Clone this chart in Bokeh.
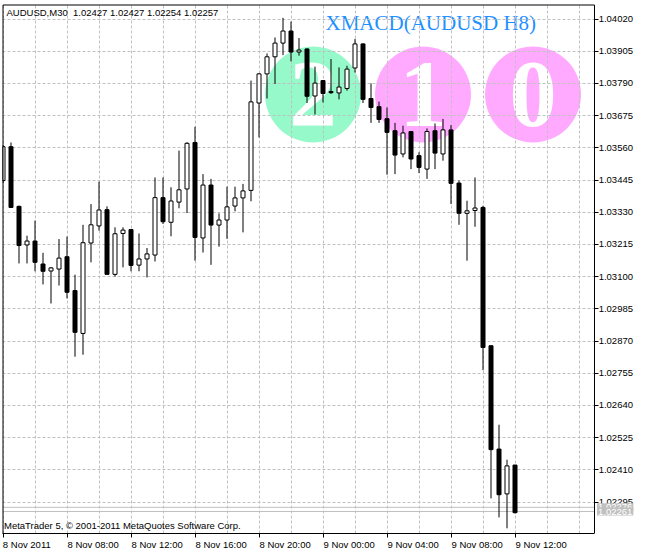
from bokeh.plotting import figure
from bokeh.models import FixedTicker, PrintfTickFormatter, Label, Span, ColumnDataSource, BoxAnnotation
from bokeh.embed import file_html
from bokeh.resources import INLINE
from bokeh.core.properties import value

# ---------------- data ----------------
symbol = "AUDUSD"
timeframe = "M30"
bar_index = list(range(65))
open_ = [1.03443, 1.03564, 1.03351, 1.03213, 1.03227, 1.03145, 1.03120, 1.03127, 1.03171, 1.03050,
         1.02897, 1.03220, 1.03281, 1.03339, 1.03108, 1.03254, 1.03268, 1.03141, 1.03163, 1.03177,
         1.03382, 1.03294, 1.03366, 1.03413, 1.03579, 1.03238, 1.03427, 1.03284, 1.03302, 1.03352,
         1.03381, 1.03408, 1.03720, 1.03824, 1.03885, 1.03934, 1.03977, 1.03902, 1.03913, 1.03745,
         1.03800, 1.03761, 1.03756, 1.03772, 1.03845, 1.03931, 1.03736, 1.03707, 1.03664, 1.03621,
         1.03538, 1.03618, 1.03532, 1.03484, 1.03621, 1.03538, 1.03624, 1.03434, 1.03326, 1.03336,
         1.03347, 1.02853, 1.02484, 1.02324, 1.02427]
high = [1.03570, 1.03579, 1.03353, 1.03246, 1.03300, 1.03185, 1.03134, 1.03234, 1.03243, 1.03107,
        1.03285, 1.03359, 1.03439, 1.03351, 1.03276, 1.03276, 1.03270, 1.03254, 1.03202, 1.03454,
        1.03454, 1.03419, 1.03550, 1.03580, 1.03635, 1.03466, 1.03449, 1.03326, 1.03421, 1.03421,
        1.03431, 1.03800, 1.03826, 1.03897, 1.03954, 1.04024, 1.04011, 1.03952, 1.03915, 1.03850,
        1.03802, 1.03877, 1.03847, 1.03853, 1.03949, 1.03933, 1.03790, 1.03725, 1.03704, 1.03649,
        1.03639, 1.03620, 1.03544, 1.03629, 1.03647, 1.03663, 1.03641, 1.03443, 1.03371, 1.03454,
        1.03353, 1.02855, 1.02571, 1.02446, 1.02427]
low = [1.03435, 1.03347, 1.03147, 1.03147, 1.03119, 1.03072, 1.03004, 1.03068, 1.03022, 1.02814,
       1.02821, 1.03151, 1.03264, 1.03108, 1.03100, 1.03133, 1.03119, 1.03119, 1.03097, 1.03154,
       1.03288, 1.03244, 1.03344, 1.03327, 1.03157, 1.03186, 1.03142, 1.03207, 1.03235, 1.03333,
       1.03258, 1.03369, 1.03597, 1.03736, 1.03788, 1.03891, 1.03869, 1.03889, 1.03720, 1.03679,
       1.03722, 1.03752, 1.03733, 1.03764, 1.03829, 1.03720, 1.03649, 1.03649, 1.03464, 1.03466,
       1.03526, 1.03484, 1.03470, 1.03449, 1.03484, 1.03514, 1.03359, 1.03285, 1.03157, 1.03278,
       1.02766, 1.02308, 1.02240, 1.02201, 1.02254]
close = [1.03564, 1.03347, 1.03211, 1.03227, 1.03151, 1.03119, 1.03131, 1.03166, 1.03044, 1.02901,
         1.03221, 1.03285, 1.03338, 1.03108, 1.03253, 1.03266, 1.03140, 1.03163, 1.03181, 1.03382,
         1.03296, 1.03370, 1.03410, 1.03576, 1.03240, 1.03427, 1.03284, 1.03302, 1.03349, 1.03381,
         1.03406, 1.03724, 1.03824, 1.03885, 1.03934, 1.03977, 1.03902, 1.03909, 1.03744, 1.03791,
         1.03754, 1.03757, 1.03777, 1.03841, 1.03931, 1.03733, 1.03704, 1.03661, 1.03615, 1.03534,
         1.03613, 1.03520, 1.03490, 1.03618, 1.03541, 1.03624, 1.03433, 1.03326, 1.03335, 1.03345,
         1.02847, 1.02482, 1.02321, 1.02424, 1.02257]
time_tick_bars = [0, 8, 16, 24, 32, 40, 48, 56, 64]
time_tick_labels = ["8 Nov 2011", "8 Nov 08:00", "8 Nov 12:00", "8 Nov 16:00", "8 Nov 20:00",
                    "9 Nov 00:00", "9 Nov 04:00", "9 Nov 08:00", "9 Nov 12:00"]
price_ticks = [1.02295, 1.02410, 1.02525, 1.02640, 1.02755, 1.02870, 1.02985, 1.03100,
               1.03215, 1.03330, 1.03445, 1.03560, 1.03675, 1.03790, 1.03905, 1.04020]
bid_price = 1.02261
ask_price = 1.02276
indicator_name = "XMACD(AUDUSD H8)"
signal_digits = ["2", "1", "0"]
signal_colors = ["#96F9CA", "#FFAAFF", "#FFAAFF"]
copyright_text = "MetaTrader 5, \u00a9 2001-2011 MetaQuotes Software Corp."

# ---------------- layout ----------------
FIG_W, FIG_H = 646, 554
LEFT_B, TOP_B, RIGHT_B, BOTTOM_B = 2, 4, 0, 21
FRAME_W = FIG_W - LEFT_B - RIGHT_B
FRAME_H = FIG_H - TOP_B - BOTTOM_B
SCALE_SX = 593.5          # screen x of the price scale line
PX_PER_BAR = 8.0
PX_PER_PRICE = 28000.0
X0 = -0.0625
X1 = X0 + FRAME_W / PX_PER_BAR
Y1 = 1.0407179
Y0 = Y1 - FRAME_H / PX_PER_PRICE

def sx2x(sx):
    return X0 + (sx - LEFT_B) / PX_PER_BAR

def sy2y(sy):
    return Y1 - (sy - TOP_B) / PX_PER_PRICE

X_SCALE = sx2x(SCALE_SX)
FONT = "Liberation Sans"
SERIF = "Liberation Serif"
FS = "9.5px"

p = figure(width=FIG_W, height=FIG_H, output_backend="svg", toolbar_location=None,
           x_range=(X0, X1), y_range=(Y0, Y1), x_axis_location="below", y_axis_location="left",
           min_border_left=LEFT_B, min_border_top=TOP_B, min_border_right=RIGHT_B,
           min_border_bottom=BOTTOM_B)
p.background_fill_color = "white"
p.border_fill_color = "white"
p.outline_line_color = None

# grid
p.xgrid.ticker = FixedTicker(ticks=list(range(0, 76, 4)))
p.ygrid.ticker = FixedTicker(ticks=price_ticks)
for g in (p.xgrid, p.ygrid):
    g.grid_line_color = "#C0C0C0"
    g.grid_line_dash = "3 2"
    g.grid_line_width = 1

# price scale, drawn at the right edge of the chart area, labels to its right
p.yaxis.fixed_location = X_SCALE
p.yaxis.ticker = FixedTicker(ticks=price_ticks)
p.yaxis.formatter = PrintfTickFormatter(format="%.5f")
p.yaxis.major_tick_out = 0
p.yaxis.major_tick_in = 4
p.yaxis.minor_tick_out = 0
p.yaxis.minor_tick_in = 0
p.yaxis.major_label_standoff = -39

# time axis (below): tick marks at the bar, label starting at the tick
tick_marks = [max(b, X0 + 0.07) for b in time_tick_bars]
label_pos = [t + 0.5 * 0.5 * len(lbl) * 9.5 / PX_PER_BAR for t, lbl in zip(tick_marks, time_tick_labels)]
p.xaxis.ticker = FixedTicker(ticks=label_pos, minor_ticks=tick_marks)
p.xaxis.major_label_overrides = {t: l for t, l in zip(label_pos, time_tick_labels)}
p.xaxis.bounds = (X0, X_SCALE)
p.xaxis.major_tick_line_color = None
p.xaxis.minor_tick_line_color = "black"
p.xaxis.minor_tick_out = 4
p.xaxis.minor_tick_in = 0
p.xaxis.major_tick_out = 4
p.xaxis.major_tick_in = 0
p.xaxis.major_label_standoff = 1

for ax in (p.xaxis, p.yaxis):
    ax.axis_line_color = "black"
    ax.major_label_text_font = FONT
    ax.major_label_text_font_size = FS
    ax.major_label_text_color = "black"

# indicator objects (background)
circle_sx = [312.5, 422.5, 532.5]
p.circle(x=[sx2x(s) for s in circle_sx], y=[sy2y(94)] * 3, radius=48, radius_units="screen",
         fill_color=signal_colors, line_color=None, level="image")
p.text(x=[sx2x(s) for s in circle_sx], y=[sy2y(93.5)] * 3, text=signal_digits,
       text_font=value(SERIF), text_font_style="bold", text_font_size="95px", text_color="white",
       text_align="center", text_baseline="middle", level="image")
p.text(x=[sx2x(325)], y=[sy2y(22.5)], text=[indicator_name], text_font=value(SERIF),
       text_font_size="21px", text_color="#1E90FF", text_align="left", text_baseline="middle",
       level="image")

# bid / ask lines
for pr in (ask_price, bid_price):
    p.add_layout(Span(location=pr, dimension="width", line_color="#C0C0C0", line_width=1,
                      level="underlay"))

# blank strip behind the price scale
p.add_layout(BoxAnnotation(left=X_SCALE, right=X1, bottom=Y0, top=Y1, fill_color="white",
                           fill_alpha=1.0, line_color=None, level="underlay"))

# candles
bull = [c >= o for o, c in zip(open_, close)]
src = ColumnDataSource(dict(
    x=bar_index, high=high, low=low,
    top=[max(o, c) for o, c in zip(open_, close)],
    bottom=[min(o, c) for o, c in zip(open_, close)],
    fill=["white" if b else "black" for b in bull],
))
p.segment(x0="x", y0="low", x1="x", y1="high", source=src, line_color="black", line_width=1)
p.vbar(x="x", top="top", bottom="bottom", width=0.5, source=src, fill_color="fill",
       line_color="black", line_width=1)

# chart frame: top and left border lines
p.segment(x0=[sx2x(2.5), sx2x(2.5)], y0=[sy2y(4.5), Y0], x1=[X_SCALE, sx2x(2.5)], y1=[sy2y(4.5), sy2y(4.5)],
          line_color="black", line_width=1, level="overlay")

# texts
header = f"{symbol},{timeframe}\u00a0 {open_[-1]:.5f} {high[-1]:.5f} {low[-1]:.5f} {close[-1]:.5f}"
p.text(x=[sx2x(6)], y=[sy2y(12.2)], text=[header], text_font=value(FONT), text_font_size=FS,
       text_color="black", text_align="left", text_baseline="middle")
p.text(x=[sx2x(3.5)], y=[sy2y(524.8)], text=[copyright_text], text_font=value(FONT),
       text_font_size=FS, text_color="black", text_align="left", text_baseline="middle")

# price labels on the scale (ask first, bid drawn on top)
for pr in (ask_price, bid_price):
    p.add_layout(Label(x=X_SCALE, y=pr, x_offset=3, text=f"{pr:.5f}", text_font=FONT,
                       text_font_size=FS, text_color="white", text_baseline="middle",
                       text_align="left", background_fill_color="#C0C0C0", padding=1))

open("out.html", "w").write(file_html(p, INLINE))
